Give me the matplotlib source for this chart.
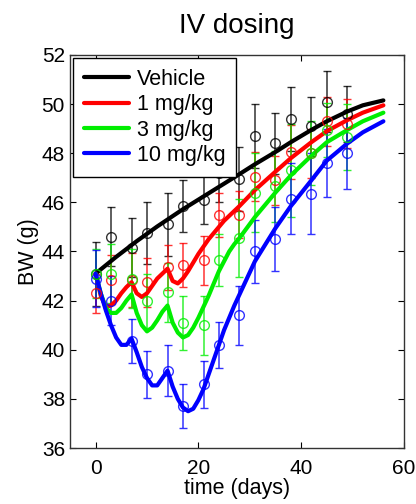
import matplotlib.pyplot as plt
import numpy as np

plt.rcParams['font.family'] = ['Liberation Sans', 'DejaVu Sans']

# observed body weight (mean +/- error) at the sampling days
obs_days = [0, 3, 7, 10, 14, 17, 21, 24, 28, 31, 35, 38, 42, 45, 49]
veh_mean = [43.1, 44.6, 44.15, 44.75, 45.1, 45.85, 46.1, 47.2, 46.95, 48.7, 48.4, 49.4, 49.1, 50.1, 49.6]
veh_err = [1.3, 1.2, 1.2, 1.25, 1.3, 1.05, 1.0, 1.2, 1.3, 1.3, 1.25, 1.3, 1.2, 1.25, 1.15]
d1_mean = [42.3, 42.85, 42.85, 42.75, 43.35, 43.45, 43.65, 45.5, 45.5, 47.05, 46.9, 48.05, 48.0, 49.3, 49.2]
d1_err = [0.8, 1.0, 1.1, 1.0, 0.9, 0.9, 1.0, 0.9, 0.95, 1.0, 1.0, 1.1, 1.0, 1.0, 1.0]
d3_mean = [43.1, 43.1, 42.9, 42.0, 42.35, 41.1, 41.0, 43.65, 44.55, 46.4, 46.65, 47.3, 48.0, 48.95, 48.65]
d3_err = [1.0, 1.2, 1.2, 1.1, 1.2, 1.1, 1.2, 1.05, 1.6, 1.6, 1.45, 1.9, 1.3, 1.1, 1.35]
d10_mean = [42.9, 42.0, 40.35, 39.0, 39.15, 37.7, 38.6, 40.2, 41.4, 44.0, 44.5, 46.15, 46.35, 47.6, 48.0]
d10_err = [1.15, 1.0, 0.9, 0.95, 1.05, 0.9, 0.95, 0.95, 1.2, 1.3, 1.3, 1.45, 1.65, 1.4, 1.45]

# model fits
model_days = [0, 1, 2, 3, 4, 5, 6, 7, 8, 9, 10, 11, 12, 13, 14, 15, 16, 17, 18, 19,
              20, 21, 22, 23, 24, 25, 26, 27, 28, 31, 35, 38, 42, 45, 49, 52, 56]
veh_fit = [43.1, 43.27, 43.44, 43.61, 43.78, 43.94, 44.1, 44.26, 44.42, 44.57, 44.72,
           44.87, 45.02, 45.16, 45.3, 45.44, 45.58, 45.72, 45.85, 45.98, 46.11, 46.24,
           46.37, 46.5, 46.63, 46.76, 46.89, 47.02, 47.15, 47.55, 48.05, 48.45, 48.95,
           49.3, 49.7, 49.95, 50.15]
d1_fit = [43.1, 42.2, 41.75, 41.8, 42.0, 42.3, 42.55, 42.75, 42.3, 42.15, 42.3,
          42.6, 42.9, 43.1, 43.3, 42.8, 42.7, 42.9, 43.2, 43.55, 43.9, 44.2,
          44.5, 44.75, 45.0, 45.25, 45.45, 45.65, 45.85, 46.5, 47.25, 47.8, 48.45,
          48.9, 49.35, 49.65, 49.95]
d3_fit = [43.1, 42.3, 41.7, 41.5, 41.5, 41.7, 42.0, 42.25, 41.5, 41.0, 40.75,
          40.9, 41.2, 41.55, 41.8, 41.1, 40.7, 40.5, 40.6, 40.9, 41.3, 41.75,
          42.2, 42.7, 43.2, 43.6, 44.0, 44.3, 44.55, 45.4, 46.4, 47.1, 47.9,
          48.45, 48.95, 49.3, 49.65]
d10_fit = [43.1, 42.3, 41.6, 41.0, 40.5, 40.2, 40.2, 40.45, 39.9, 39.3, 38.85,
           38.55, 38.55, 38.85, 39.15, 38.5, 38.0, 37.65, 37.5, 37.6, 37.95, 38.4,
           39.0, 39.6, 40.2, 40.8, 41.3, 41.8, 42.25, 43.6, 44.95, 45.85, 46.9,
           47.7, 48.4, 48.85, 49.3]

labels = ['Vehicle', '1 mg/kg', '3 mg/kg', '10 mg/kg']
colors = ['black', '#ff0000', '#00ee00', '#0000ff']

fig = plt.figure(figsize=(4.16, 5.04), dpi=100)
ax = fig.add_axes([0.168, 0.111, 0.803, 0.78])

means = [veh_mean, d1_mean, d3_mean, d10_mean]
errs = [veh_err, d1_err, d3_err, d10_err]
fits = [veh_fit, d1_fit, d3_fit, d10_fit]

for m, e, c in zip(means, errs, colors):
    ax.errorbar(obs_days, m, yerr=e, fmt='o', color=c, mfc='none', ms=7,
                mew=1.0, elinewidth=1.1, capsize=3, capthick=1.1, alpha=0.8)

handles = []
for f, c, lab in zip(fits, colors, labels):
    h, = ax.plot(model_days, f, color=c, lw=3, label=lab, solid_capstyle='round')
    handles.append(h)

ax.set_xlim(-5, 60)
ax.set_ylim(36, 52)
ax.set_xticks([0, 20, 40, 60])
ax.set_yticks(np.arange(36, 53, 2))
ax.tick_params(direction='in', top=True, right=True, length=4, labelsize=15)
ax.tick_params(axis='x', pad=8)
for s in ax.spines.values():
    s.set_linewidth(1.0)
    s.set_color('#333333')

ax.set_xlabel('time (days)', fontsize=15.5, labelpad=0)
ax.set_ylabel('BW (g)', fontsize=15.5, labelpad=2)
ax.set_title('IV dosing', fontsize=20, pad=16)

leg = ax.legend(handles=handles, loc='upper left', fontsize=15.5, frameon=True,
                fancybox=False, edgecolor='black', framealpha=1,
                handlelength=2.1, handletextpad=0.35, labelspacing=0.2,
                borderpad=0.5, borderaxespad=0.15)
leg.get_frame().set_linewidth(1.0)

plt.savefig('out.png', dpi=100)
